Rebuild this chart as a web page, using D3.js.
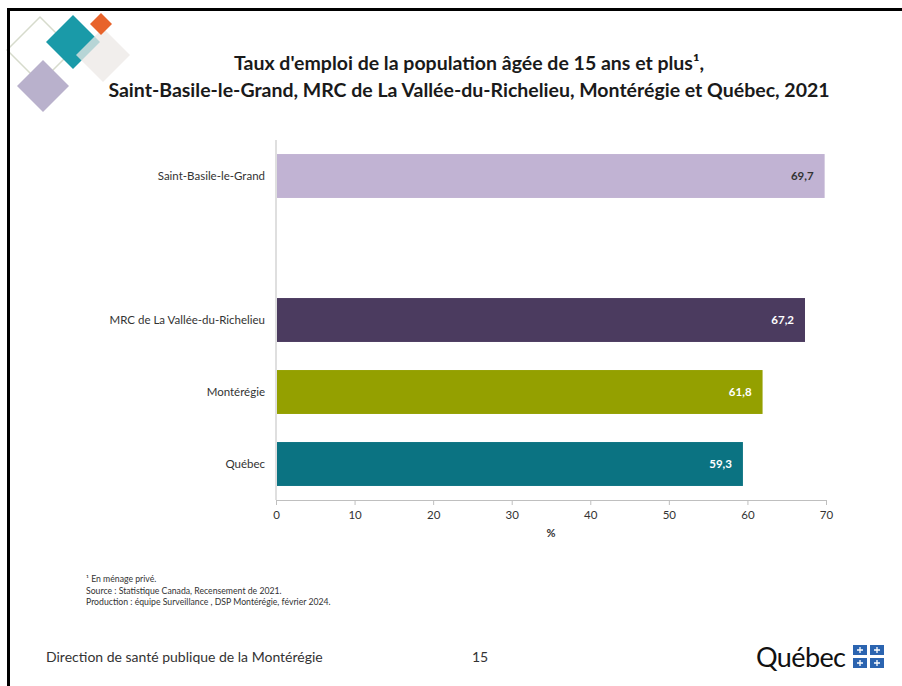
<!DOCTYPE html>
<html><head><meta charset="utf-8">
<script src="https://cdn.jsdelivr.net/npm/d3@7"></script>
<style>body{margin:0;background:#fff}svg{display:block}text{font-family:Lato,"Open Sans",sans-serif}</style>
</head><body>
<script>
const categories = ["Saint-Basile-le-Grand", "", "MRC de La Vallée-du-Richelieu", "Montérégie", "Québec"];
const values = [69.7, null, 67.2, 61.8, 59.3];
const colors = ["#c1b3d3", null, "#4b3b5f", "#94a000", "#0b7382"];
const labelColors = ["#333333", null, "#ffffff", "#ffffff", "#ffffff"];
const xTicks = [0, 10, 20, 30, 40, 50, 60, 70];
const titleLines = ["Taux d'emploi de la population âgée de 15 ans et plus¹,", "Saint-Basile-le-Grand, MRC de La Vallée-du-Richelieu, Montérégie et Québec, 2021"];
const notes = ["¹ En ménage privé.", "Source : Statistique Canada, Recensement de 2021.", "Production : équipe Surveillance , DSP Montérégie, février 2024."];

const W = 902, H = 686;
const svg = d3.select("body").append("svg").attr("width", W).attr("height", H);
svg.append("rect").attr("width", W).attr("height", H).attr("fill", "#fff");

// decorative diamonds
const deco = svg.append("g");
function diamond(cx, cy, r, fill, stroke, op) {
  deco.append("path")
    .attr("d", `M${cx},${cy - r}L${cx + r},${cy}L${cx},${cy + r}L${cx - r},${cy}Z`)
    .attr("fill", fill).attr("stroke", stroke || "none").attr("stroke-width", 1.5)
    .attr("stroke-linejoin", "round").attr("opacity", op == null ? 1 : op);
}
diamond(40, 50, 33, "none", "#d6dbcc");
diamond(43, 86, 26, "#b9b1cc");
diamond(73, 42, 27, "#1a9aa8");
diamond(103, 55, 27, "#ece8e6", null, 0.75);
diamond(101, 24, 11, "#e8632b");

// frame
svg.append("path").attr("d", `M8.5,${H}V9.5H${W}`).attr("fill", "none").attr("stroke", "#000").attr("stroke-width", 3);

// title
svg.append("g").selectAll("text").data(titleLines).join("text")
  .attr("x", 469).attr("y", (d, i) => 70 + i * 27)
  .attr("text-anchor", "middle").attr("font-size", 19.5).attr("font-weight", "bold").attr("fill", "#1a1a1a")
  .text(d => d);

const m = {left: 276, right: 826, top: 140, bottom: 500};
const x = d3.scaleLinear().domain([0, 70]).range([m.left, m.right]);
const y = d3.scaleBand().domain(categories.map((c, i) => i)).range([m.top, m.bottom]).paddingInner(0.39).paddingOuter(0.195);

// x axis
const xa = svg.append("g").attr("transform", `translate(0,${m.bottom})`)
  .call(d3.axisBottom(x).tickValues(xTicks).tickSize(5).tickPadding(6));
xa.select(".domain").attr("stroke", "#bfbfbf");
xa.selectAll(".tick line").attr("stroke", "#bfbfbf");
xa.selectAll(".tick text").attr("font-size", 11.5).attr("fill", "#333").attr("font-family", "Lato, sans-serif");

// y axis line
svg.append("line").attr("x1", m.left).attr("x2", m.left).attr("y1", m.top).attr("y2", m.bottom).attr("stroke", "#bfbfbf");

svg.append("text").attr("x", (m.left + m.right) / 2).attr("y", 537).attr("text-anchor", "middle")
  .attr("font-size", 11).attr("font-weight", "bold").attr("fill", "#333").text("%");

const idx = categories.map((c, i) => i).filter(i => values[i] != null);
svg.append("g").selectAll("rect").data(idx).join("rect")
  .attr("x", x(0) + 1).attr("y", i => y(i)).attr("width", i => x(values[i]) - x(0)).attr("height", y.bandwidth())
  .attr("fill", i => colors[i]);

svg.append("g").selectAll("text").data(idx).join("text")
  .attr("x", i => x(values[i]) - 10).attr("y", i => y(i) + y.bandwidth() / 2 + 4)
  .attr("text-anchor", "end").attr("font-size", 11.5).attr("font-weight", "bold")
  .attr("fill", i => labelColors[i]).text(i => values[i].toFixed(1).replace(".", ","));

svg.append("g").selectAll("text").data(idx).join("text")
  .attr("x", 265).attr("y", i => y(i) + y.bandwidth() / 2 + 4)
  .attr("text-anchor", "end").attr("font-size", 11.5).attr("fill", "#333").text(i => categories[i]);

// notes
svg.append("g").selectAll("text").data(notes).join("text")
  .attr("x", 86).attr("y", (d, i) => 582 + i * 11.5).attr("font-size", 8.7).attr("fill", "#333").text(d => d);

// footer
svg.append("text").attr("x", 46).attr("y", 662).attr("font-size", 14).attr("fill", "#333").text("Direction de santé publique de la Montérégie");
svg.append("text").attr("x", 472).attr("y", 662).attr("font-size", 14).attr("fill", "#333").text("15");

// Québec logo
svg.append("text").attr("x", 756).attr("y", 667).attr("font-size", 27).attr("fill", "#111")
  .attr("font-family", "'DejaVu Serif', 'Liberation Serif', serif").attr("letter-spacing", -0.6).text("Québec");
const flag = svg.append("g");
[[853, 645], [870, 645], [853, 658], [870, 658]].forEach(([fx, fy]) => {
  flag.append("rect").attr("x", fx).attr("y", fy).attr("width", 14).attr("height", 10).attr("fill", "#2b64b0");
  flag.append("path").attr("d", `M${fx + 7},${fy + 2}V${fy + 8}M${fx + 4},${fy + 5}H${fx + 10}`).attr("stroke", "#fff").attr("stroke-width", 1.3);
});
</script>
</body></html>
